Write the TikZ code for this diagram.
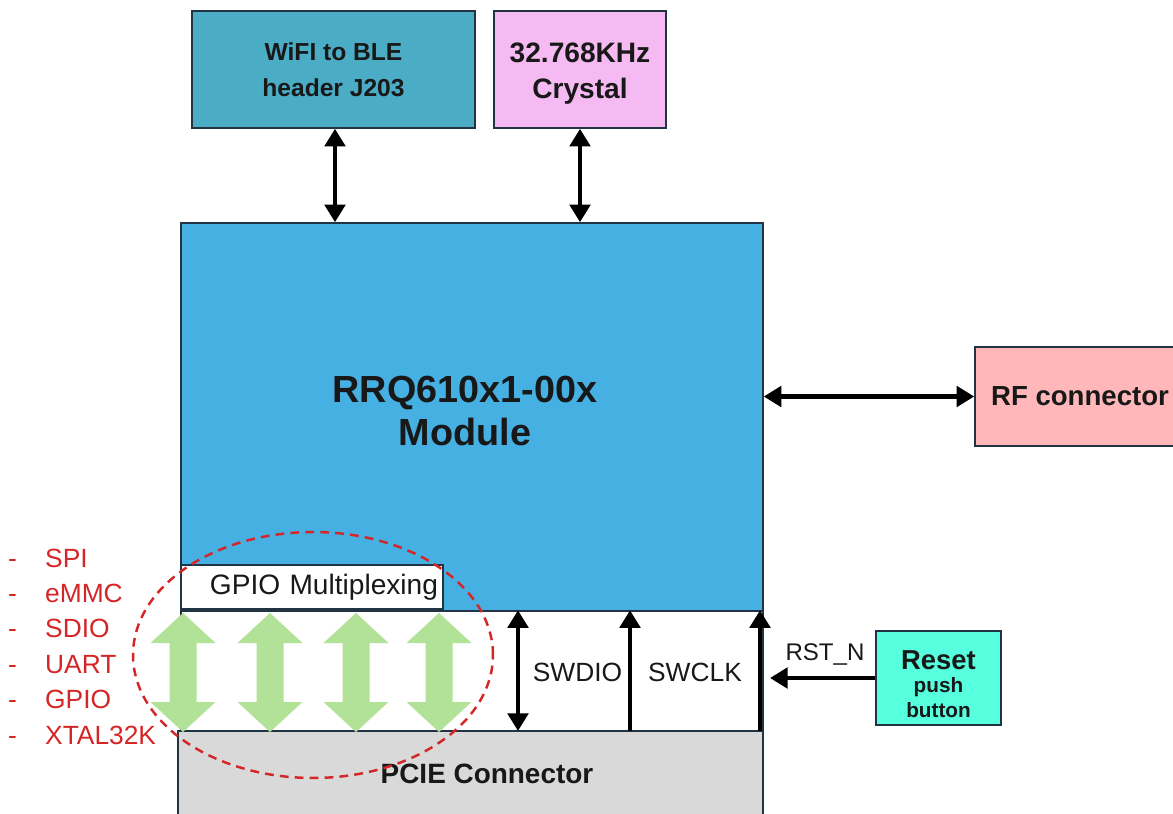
\documentclass[tikz,border=0pt]{standalone}
\usepackage{fontspec}
\setmainfont{Liberation Sans}
\usepackage{xcolor}
\definecolor{textcolor}{RGB}{24,24,24}
\definecolor{linecolor}{RGB}{34,52,68}
\definecolor{wificolor}{RGB}{75,172,198}
\definecolor{xtalcolor}{RGB}{245,186,242}
\definecolor{modcolor}{RGB}{69,176,225}
\definecolor{rfcolor}{RGB}{255,183,185}
\definecolor{resetcolor}{RGB}{86,255,222}
\definecolor{pciecolor}{RGB}{217,217,217}
\definecolor{gpiogreen}{RGB}{178,226,152}
\definecolor{ifcred}{RGB}{212,38,38}
\usepackage{tikz}
\usetikzlibrary{arrows.meta,calc}

\begin{document}
\begin{tikzpicture}[x=0.02cm, y=-0.02cm, every node/.style={color=textcolor},
  blk/.style={draw=linecolor, line width=0.9pt, inner sep=0pt, align=center},
  bus/.style={line width=2.7pt, {Triangle[width=11.5pt,length=10pt]}-{Triangle[width=11.5pt,length=10pt]}},
  upline/.style={line width=2.7pt, -{Triangle[width=11.5pt,length=10pt]}},
  sig/.style={font=\fontsize{15}{18}\selectfont},
  ifc/.style={color=ifcred, font=\fontsize{15}{17}\selectfont}]
  \clip (0,0) rectangle (1173,814);
  % top blocks and module
  \node[blk, fill=wificolor, minimum width=5.66cm, minimum height=2.34cm,
    font=\fontsize{14}{20.4}\selectfont\bfseries] (wifi) at (333.5,69.5) {WiFI to BLE\\header J203};
  \node[blk, fill=xtalcolor, minimum width=3.44cm, minimum height=2.34cm] (xtal) at (580,69.5) {};
  \node[align=center, font=\fontsize{16}{20.4}\selectfont\bfseries] (xtallbl) at (580,73.5) {32.768KHz\\Crystal};
  \node[blk, fill=modcolor, minimum width=11.64cm, minimum height=7.76cm] (mod) at (472,417) {};
  \node[align=center, font=\fontsize{21.5}{24.4}\selectfont\bfseries] (modlbl) at (465,411) {RRQ610x1-00x\\Module};
  \node[blk, fill=rfcolor, minimum width=4.2cm, minimum height=1.98cm,
    font=\fontsize{15.7}{18}\selectfont\bfseries] (rf) at (1080,396.5) {RF connector};
  % interface band and PCIE
  \node[blk, fill=white, minimum width=11.64cm, minimum height=2.4cm] (band) at (472,671) {};
  \node[blk, fill=pciecolor, minimum width=11.7cm, minimum height=1.72cm] (pcie) at (470.5,774) {};
  \node[font=\fontsize{15.9}{18}\selectfont\bfseries] (pcielbl) at (487,774) {PCIE Connector};
  \foreach \x in {183,270,356,439}
    \fill[gpiogreen] (\x,613) -- ++(32.5,30) -- ++(-19,0) -- ++(0,59) -- ++(19,0) -- (\x,732)
      -- ++(-32.5,-30) -- ++(19,0) -- ++(0,-59) -- ++(-19,0) -- cycle;
  \node[blk, fill=white, minimum width=5.24cm, minimum height=0.88cm, text width=5.04cm,
    align=right, font=\fontsize{16}{18}\selectfont] (gpio) at (312,587) {GPIO Multiplexing};
  % connectors
  \draw[bus] (wifi.south -| 335,0) -- (mod.north -| 335,0);
  \draw[bus] (xtal) -- (xtal |- mod.north);
  \draw[bus] (mod.east |- rf.west) -- (rf.west);
  \coordinate (swdio) at (518,731);
  \coordinate (swclk) at (630,731);
  \coordinate (rstup) at (760,731);
  \draw[bus] (swdio) -- (swdio |- band.north);
  \draw[upline] (swclk) -- (swclk |- band.north);
  \draw[upline] (rstup) -- (rstup |- band.north);
  \node[sig] (swdiolbl) at (577.5,672) {SWDIO};
  \node[sig] (swclklbl) at (695,672) {SWCLK};
  \node[blk, fill=resetcolor, minimum width=2.5cm, minimum height=1.88cm] (reset) at (938.5,678) {};
  \node[align=center, font=\bfseries] (resetlbl) at (938.5,684)
    {\fontsize{15.6}{16}\selectfont Reset\\[1pt]\fontsize{11.8}{14}\selectfont push\\[2.5pt]\fontsize{11.8}{14}\selectfont button};
  \draw[upline, shorten >=0.2cm] (reset.west) -- (reset.west -| rstup);
  \node[font=\fontsize{13.7}{16}\selectfont] (rstlbl) at (825,654) {RST\_N};
  % interface list
  \foreach \name [count=\i from 0] in {SPI,eMMC,SDIO,UART,GPIO,XTAL32K}
    \node[ifc, anchor=base west] (ifc\i) at (2,{567+35.4*\i}) {\makebox[0.74cm][l]{-}\name};
  \draw[ifcred, line width=1.4pt, dash pattern=on 5pt off 3.5pt] (313,655) ellipse [x radius=3.6cm, y radius=2.46cm];
\end{tikzpicture}
\end{document}
